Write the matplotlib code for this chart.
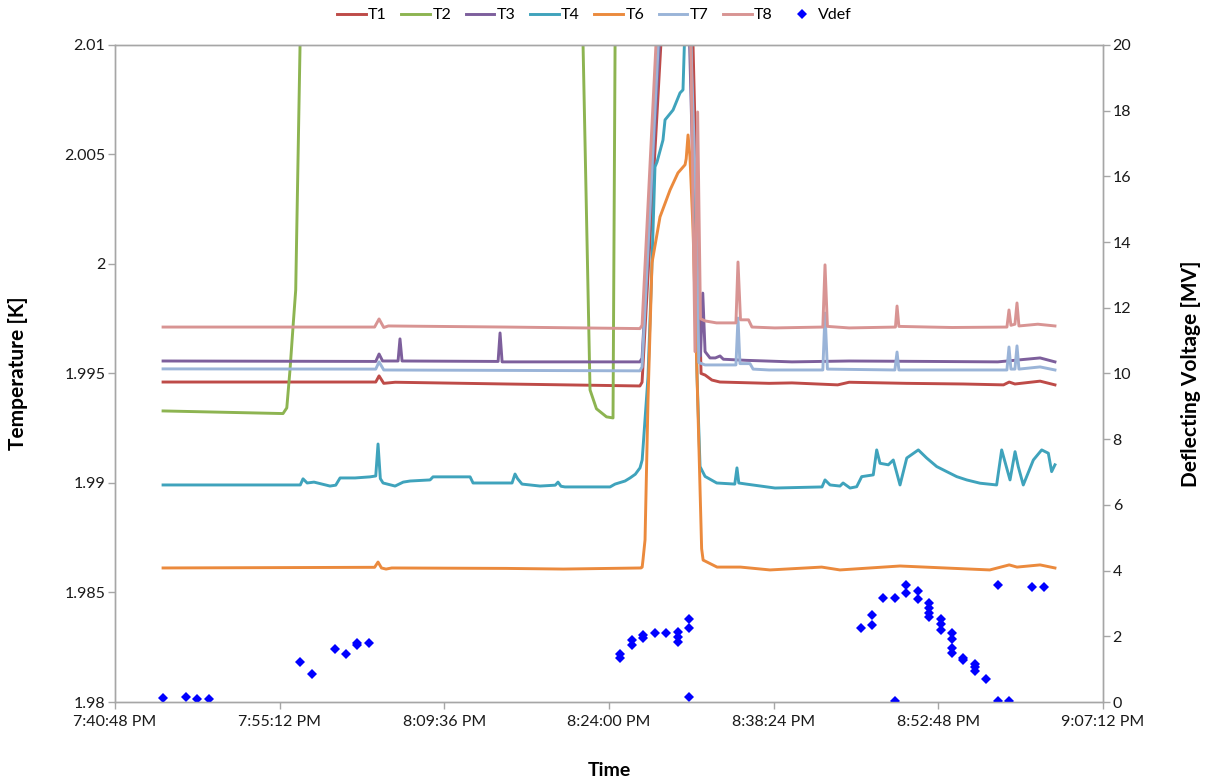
import matplotlib
matplotlib.use("Agg")
import matplotlib.pyplot as plt
from matplotlib.ticker import FuncFormatter, FixedLocator, MultipleLocator

plt.rcParams['font.family'] = ['Lato', 'DejaVu Sans']

# ---- data: time in minutes after 7:00 PM, temperature in K ----
t1_t = [45.0, 63.6, 63.89, 64.3, 65.3, 75.0, 86.7, 86.89, 88.64, 91.3, 92.05, 92.4, 93.0, 93.7,
        98.0, 100.0, 104.0, 105.0, 110.0, 115.0, 118.5, 119.0, 119.5, 121.7, 123.0]
t1_v = [1.99461, 1.99461, 1.99489, 1.99455, 1.99460, 1.99452, 1.99443, 1.99460, 2.0110, 2.0110,
        1.99500, 1.99493, 1.99470, 1.99461, 1.99455, 1.99457, 1.99448, 1.99460, 1.99455, 1.99452,
        1.99448, 1.99461, 1.99452, 1.99465, 1.99448]

t2_t = [45.0, 55.49, 55.82, 56.10, 56.39, 56.60, 56.98, 57.2, 81.6, 81.73, 82.34, 82.9, 83.78,
        84.35, 84.53, 84.7, 123.0]
t2_v = [1.99329, 1.99317, 1.99343, 1.99516, 1.99731, 1.99881, 2.0100, 2.0120, 2.0120, 2.0100,
        1.99425, 1.99339, 1.99302, 1.99297, 2.0100, 2.0120, 2.0150]

t3_t = [45.0, 63.6, 63.89, 64.2, 65.55, 65.72, 65.9, 74.3, 74.47, 74.65, 86.7, 86.89, 88.5, 91.0,
        91.3, 91.8, 92.0, 92.2, 92.4, 92.83, 93.3, 93.71, 94.0, 96.0, 100.0, 105.0, 112.0, 118.0,
        121.7, 123.0]
t3_v = [1.99557, 1.99555, 1.99589, 1.99557, 1.99557, 1.99658, 1.99557, 1.99555, 1.99685, 1.99553,
        1.99553, 1.99570, 2.0110, 2.0110, 2.0050, 1.99600, 1.99580, 1.99867, 1.99600, 1.99571,
        1.99571, 1.99580, 1.99565, 1.99560, 1.99553, 1.99557, 1.99555, 1.99553, 1.99571, 1.99553]

t4_t = [45.0, 57.0, 57.24, 57.6, 58.2, 59.6, 60.1, 60.48, 61.79, 63.10, 63.6, 63.80, 64.0, 64.24,
        65.29, 66.0, 66.60, 68.35, 68.61, 71.85, 72.11, 75.52, 75.78, 76.0, 76.39, 77.97, 79.3,
        79.54, 79.8, 80.15, 84.09, 84.53, 85.40, 85.84, 86.3, 86.71, 86.9, 87.41, 87.76, 88.02,
        88.20, 88.72, 88.90, 89.60, 90.21, 90.47, 90.65, 91.1, 91.17, 91.70, 91.96, 92.4, 93.42,
        95.0, 95.19, 95.35, 96.0, 98.52, 102.63, 102.89, 103.33, 104.2, 104.47, 105.08, 105.66,
        106.10, 107.11, 107.41, 107.70, 108.43, 108.86, 109.45, 110.04, 111.05, 111.78, 112.66,
        113.53, 114.41, 115.28, 116.45, 117.90, 118.34, 119.07, 119.51, 119.79, 120.23, 121.11,
        121.84, 122.42, 122.71, 123.0]
t4_v = [1.98991, 1.98991, 1.99019, 1.99000, 1.99004, 1.98986, 1.98990, 1.99023, 1.99023, 1.99028,
        1.99032, 1.99178, 1.99020, 1.99000, 1.98986, 1.99004, 1.99009, 1.99014, 1.99028, 1.99028,
        1.99000, 1.99000, 1.99041, 1.99020, 1.98995, 1.98986, 1.98990, 1.99004, 1.98985, 1.98982,
        1.98982, 1.98995, 1.99009, 1.99023, 1.99040, 1.99069, 1.99105, 1.99484, 2.00005, 2.00443,
        2.00466, 2.00566, 2.00658, 2.00703, 2.00781, 2.00795, 2.0110, 2.0110, 2.0100, 1.99484,
        1.99075, 1.99030, 1.99000, 1.98995, 1.99069, 1.99000, 1.98995, 1.98977, 1.98982, 1.99014,
        1.98991, 1.98986, 1.99000, 1.98977, 1.98983, 1.99029, 1.99037, 1.99151, 1.99090, 1.99083,
        1.99105, 1.98991, 1.99114, 1.99151, 1.99114, 1.99075, 1.99052, 1.99029, 1.99014, 1.98999,
        1.98991, 1.99151, 1.99014, 1.99143, 1.99075, 1.98991, 1.99105, 1.99151, 1.99136, 1.99052,
        1.99083]

t6_t = [45.0, 63.5, 63.80, 64.1, 64.5, 65.0, 75.0, 80.0, 86.8, 86.9, 86.97, 87.15, 87.41, 87.76,
        88.46, 89.34, 90.03, 90.65, 90.75, 90.91, 91.08, 91.35, 91.70, 92.1, 92.23, 93.45, 95.5,
        98.08, 102.6, 104.2, 109.45, 117.3, 119.0, 119.68, 121.7, 123.0]
t6_v = [1.98612, 1.98615, 1.98639, 1.98612, 1.98607, 1.98612, 1.98610, 1.98607, 1.98612, 1.98616,
        1.98648, 1.98740, 1.99379, 2.00005, 2.00215, 2.00338, 2.00416, 2.00453, 2.00480, 2.00589,
        2.00489, 2.00155, 1.99484, 1.98700, 1.98648, 1.98616, 1.98616, 1.98603, 1.98616, 1.98603,
        1.98621, 1.98603, 1.98626, 1.98616, 1.98626, 1.98612]

t7_t = [45.0, 63.6, 63.89, 64.3, 86.7, 86.89, 88.4, 91.1, 91.70, 91.85, 92.4, 95.1, 95.28, 95.45,
        96.33, 96.6, 98.0, 102.7, 102.89, 103.1, 109.0, 109.19, 109.35, 118.8, 118.98, 119.15,
        119.5, 119.68, 119.85, 121.7, 123.0]
t7_v = [1.99521, 1.99520, 1.99553, 1.99516, 1.99512, 1.99530, 2.0110, 2.0110, 2.00123, 1.99550,
        1.99539, 1.99539, 1.99753, 1.99545, 1.99545, 1.99520, 1.99516, 1.99516, 1.99776, 1.99520,
        1.99516, 1.99598, 1.99516, 1.99516, 1.99621, 1.99520, 1.99520, 1.99626, 1.99520, 1.99530,
        1.99516]

t8_t = [45.0, 63.5, 63.89, 64.3, 64.7, 75.0, 86.7, 86.89, 88.2, 91.1, 91.52, 91.75, 92.0, 92.4,
        93.4, 95.1, 95.28, 95.5, 96.2, 96.5, 98.5, 102.7, 102.89, 103.1, 105.0, 109.05, 109.19,
        109.35, 112.0, 114.0, 118.8, 118.98, 119.15, 119.5, 119.68, 119.85, 121.5, 123.0]
t8_v = [1.99712, 1.99712, 1.99749, 1.99710, 1.99717, 1.99712, 1.99705, 1.99720, 2.0110, 2.0120,
        1.99600, 2.00694, 1.99750, 1.99740, 1.99731, 1.99731, 2.00009, 1.99745, 1.99745, 1.99712,
        1.99708, 1.99712, 1.99996, 1.99715, 1.99708, 1.99712, 1.99808, 1.99715, 1.99712, 1.99710,
        1.99712, 1.99790, 1.99720, 1.99725, 1.99822, 1.99717, 1.99725, 1.99717]

# deflecting voltage (MV), time in minutes after 7:00 PM
vdef_t = [45, 47, 48, 49, 57, 58, 60, 61, 62, 62, 63,
          85, 85, 86, 86, 87, 87, 88, 89, 90, 90, 90, 91, 91, 91,
          106, 107, 107, 108, 109, 109, 110, 110, 111, 111, 112, 112, 112, 112,
          113, 113, 113, 114, 114, 114, 114, 115, 115, 116, 116, 116, 117, 118, 118, 119, 121, 122]
vdef_v = [0.11, 0.16, 0.08, 0.08, 1.23, 0.86, 1.60, 1.47, 1.73, 1.81, 1.81,
          1.45, 1.33, 1.89, 1.74, 2.04, 1.94, 2.11, 2.11, 2.14, 1.97, 1.82, 2.53, 2.24, 0.14,
          2.24, 2.65, 2.34, 3.16, 3.16, 0.04, 3.56, 3.31, 3.39, 3.14, 3.00, 2.85, 2.72, 2.58,
          2.52, 2.37, 2.19, 2.09, 1.92, 1.65, 1.48, 1.35, 1.28, 1.16, 1.06, 0.94, 0.69, 3.56, 0.04,
          0.04, 3.49, 3.49]

series_names = ['T1', 'T2', 'T3', 'T4', 'T6', 'T7', 'T8']
series_colors = ['#BE4B48', '#8DB451', '#7D5F9C', '#3FA3BC', '#EB8A3D', '#9AB4D8', '#D89493']
series_t = [t1_t, t2_t, t3_t, t4_t, t6_t, t7_t, t8_t]
series_v = [t1_v, t2_v, t3_v, t4_v, t6_v, t7_v, t8_v]

x_start = 19 * 3600 + 40 * 60 + 48   # 7:40:48 PM in seconds
x_step = 864                          # 14:24
def to_sec(tmin):
    return [19 * 3600 + m * 60 for m in tmin]

def fmt_time(s, pos=None):
    s = int(round(s))
    h, rem = divmod(s, 3600)
    m, sec = divmod(rem, 60)
    suffix = 'PM' if h >= 12 else 'AM'
    h12 = h - 12 if h > 12 else h
    return f"{h12}:{m:02d}:{sec:02d} {suffix}"

fig = plt.figure(figsize=(12.11, 7.82), dpi=100)
ax = fig.add_axes([0.0950, 0.1023, 0.8158, 0.8402])
ax2 = ax.twinx()

handles = []
for name, col, tt, vv in zip(series_names, series_colors, series_t, series_v):
    ln, = ax.plot(to_sec(tt), vv, color=col, lw=2.1, label=name, solid_joinstyle='round')
    handles.append(ln)

sc, = ax2.plot(to_sec(vdef_t), vdef_v, linestyle='none', marker='D', markersize=5.0,
               color='#0000FF', markeredgewidth=0, label='Vdef')
handles.append(sc)

ax.set_xlim(x_start, x_start + 6 * x_step)
ax.set_ylim(1.98, 2.01)
ax2.set_ylim(0, 20)
ax.xaxis.set_major_locator(FixedLocator([x_start + k * x_step for k in range(7)]))
ax.xaxis.set_major_formatter(FuncFormatter(fmt_time))
ax.yaxis.set_major_locator(MultipleLocator(0.005))
ax.yaxis.set_major_formatter(FuncFormatter(lambda v, p: f"{v:.3f}".rstrip('0').rstrip('.')))
ax2.yaxis.set_major_locator(MultipleLocator(2))

gray = '#A6A6A6'
for a in (ax, ax2):
    for sp in a.spines.values():
        sp.set_color(gray)
        sp.set_linewidth(1.0)
    a.tick_params(colors=gray, length=5, width=1.0, direction='out', labelsize=11.5,
                  labelcolor='#1a1a1a', pad=2)
ax.tick_params(axis='x', pad=4)

ax.set_xlabel('Time', fontsize=14, fontweight='bold', labelpad=24)
ax.set_ylabel('Temperature [K]', fontsize=15, fontweight='bold', labelpad=26)
ax2.set_ylabel('Deflecting Voltage [MV]', fontsize=15, fontweight='bold', labelpad=36)

fig.legend(handles=handles, labels=series_names + ['Vdef'], loc='upper center',
           bbox_to_anchor=(0.491, 1.008), ncol=8, frameon=False, fontsize=11.5,
           handlelength=1.8, handletextpad=0.15, columnspacing=0.9, numpoints=1)

fig.savefig('out.png', dpi=100)
